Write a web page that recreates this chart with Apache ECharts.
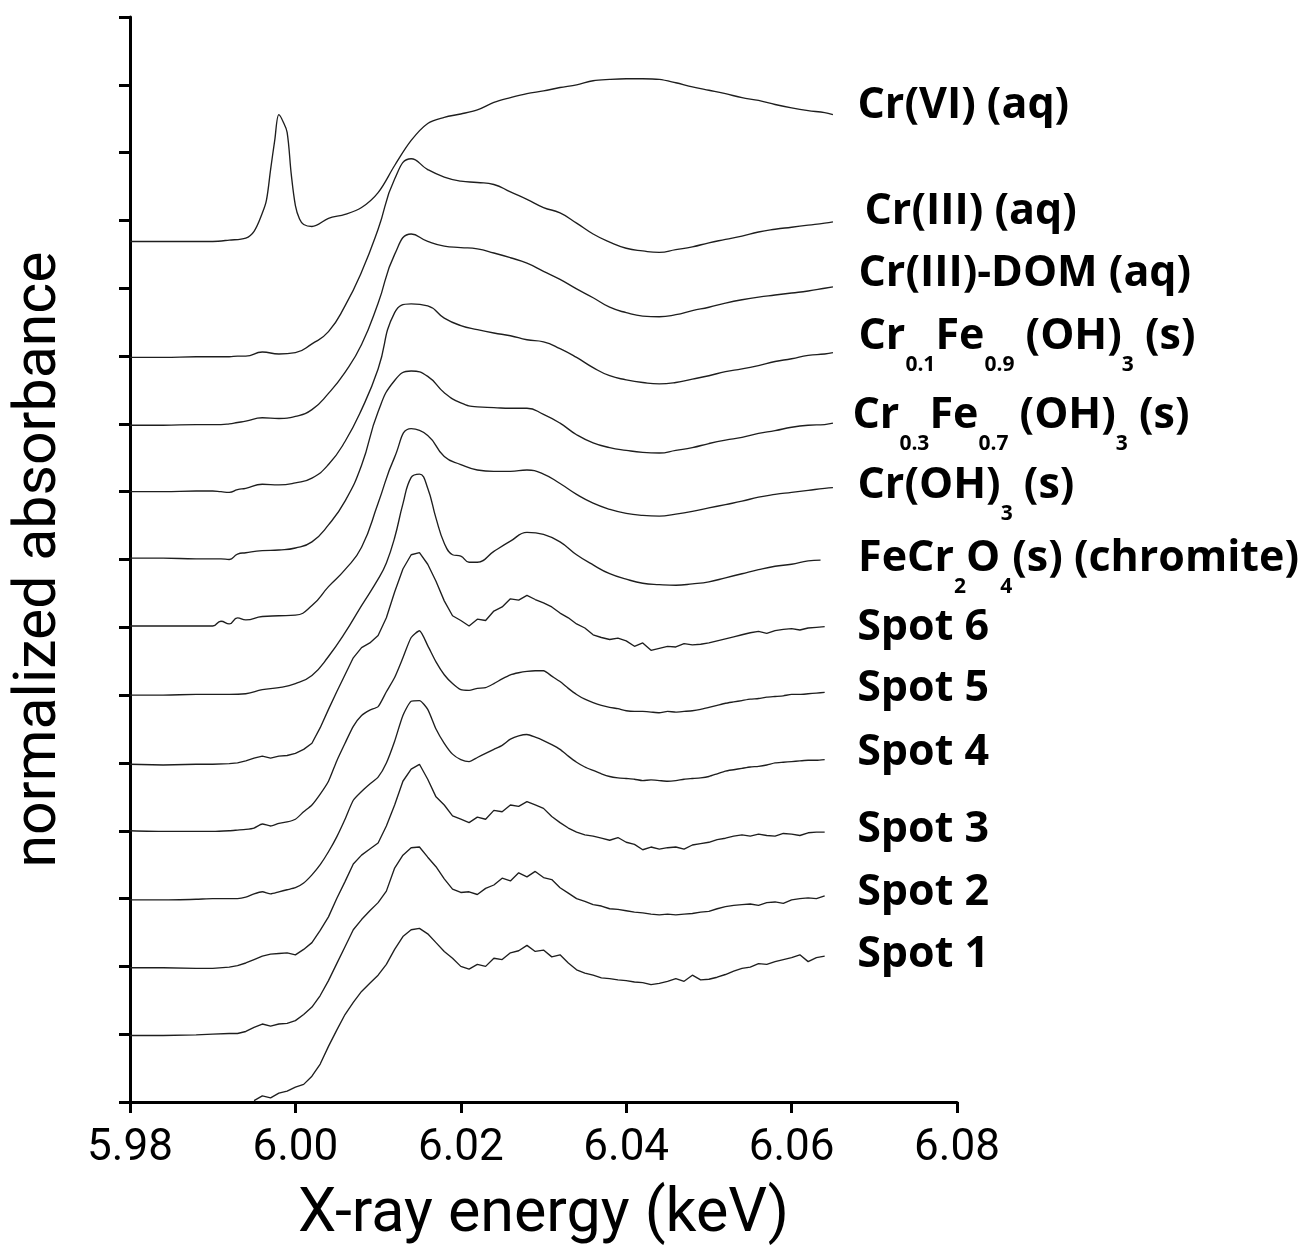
<!DOCTYPE html>
<html><head><meta charset="utf-8">
<script src="https://cdn.jsdelivr.net/npm/echarts@6/dist/echarts.min.js"></script>
<style>html,body{margin:0;padding:0;background:#fff}#c{width:1311px;height:1251px}</style>
</head><body><div id="c"></div>
<script>
// ---------- energies (keV) ----------
const E_STD = [5.980,5.984,5.988,5.990,5.991,5.992,5.993,5.994,5.996,5.998,6.000,6.002,6.004,6.006,6.008,6.010,6.012,6.014,6.016,6.018,6.020,6.022,6.024,6.026,6.028,6.030,6.032,6.034,6.036,6.038,6.040,6.042,6.044,6.046,6.048,6.050,6.052,6.054,6.056,6.058,6.060,6.062,6.064,6.065];
const E_CR6 = [5.980,5.984,5.988,5.990,5.992,5.994,5.995,5.996,5.9965,5.997,5.9975,5.998,5.9985,5.999,5.9995,6.000,6.0005,6.001,6.002,6.004,6.006,6.008,6.010,6.012,6.014,6.016,6.018,6.020,6.022,6.024,6.026,6.028,6.030,6.032,6.034,6.036,6.038,6.040,6.042,6.044,6.046,6.048,6.050,6.052,6.054,6.056,6.058,6.060,6.062,6.064,6.065];
const E_FCO = [5.980,5.984,5.988,5.990,5.992,5.994,5.996,5.998,6.000,6.002,6.004,6.006,6.008,6.010,6.011,6.012,6.013,6.014,6.015,6.016,6.017,6.018,6.019,6.020,6.021,6.022,6.024,6.026,6.028,6.030,6.032,6.034,6.036,6.038,6.040,6.042,6.044,6.046,6.048,6.050,6.052,6.054,6.056,6.058,6.060,6.062,6.0635];
const E_SPOT = [5.980,5.984,5.988,5.990,5.992,
 5.993,5.994,5.995,5.996,5.997,5.998,5.999,6.000,6.001,6.002,
 6.003,6.004,6.005,6.006,6.007,6.008,6.009,6.010,6.011,6.012,
 6.013,6.014,6.015,6.016,6.017,6.018,6.019,6.020,6.021,6.022,
 6.023,6.024,6.025,6.026,6.027,6.028,6.029,6.030,6.031,6.032,
 6.033,6.034,6.035,6.036,6.037,6.038,6.039,6.040,6.041,6.042,
 6.043,6.044,6.045,6.046,6.047,6.048,6.049,6.050,6.051,6.052,
 6.053,6.054,6.055,6.056,6.057,6.058,6.059,6.060,6.061,6.062,
 6.063,6.064];

// ---------- offset normalized absorbance ----------
const crVI = [12.69,12.69,12.69,12.69,12.71,12.74,12.84,13.11,13.30,13.75,14.18,14.56,14.46,14.30,13.68,13.22,13.02,12.94,12.91,13.03,13.09,13.19,13.41,13.81,14.18,14.43,14.52,14.57,14.63,14.74,14.81,14.87,14.91,14.96,15.00,15.06,15.08,15.09,15.09,15.08,15.03,14.97,14.92,14.87,14.81,14.77,14.71,14.66,14.62,14.59,14.56];
const crIIIaq = [10.98,10.98,10.99,10.99,10.99,10.99,11.00,11.00,11.06,11.03,11.05,11.18,11.36,11.74,12.24,12.87,13.61,13.91,13.75,13.64,13.58,13.56,13.53,13.42,13.31,13.19,13.11,12.96,12.80,12.68,12.59,12.55,12.53,12.57,12.61,12.67,12.72,12.77,12.83,12.87,12.90,12.93,12.96,12.98];
const crIIIdom = [9.98,9.98,9.99,9.99,9.99,10.00,10.02,10.04,10.09,10.08,10.11,10.21,10.45,10.76,11.17,11.78,12.50,12.80,12.69,12.62,12.60,12.58,12.52,12.45,12.37,12.25,12.13,11.99,11.86,11.72,11.64,11.59,11.58,11.61,11.67,11.72,11.78,11.83,11.87,11.90,11.93,11.96,12.00,12.02];
const cr01fe09 = [9.00,9.00,9.01,9.01,9.00,8.99,9.03,9.05,9.11,9.10,9.13,9.20,9.40,9.74,10.21,10.81,11.64,11.77,11.74,11.56,11.45,11.39,11.34,11.30,11.24,11.21,11.11,10.98,10.83,10.71,10.65,10.61,10.59,10.61,10.66,10.71,10.77,10.81,10.86,10.92,10.96,11.01,11.03,11.05];
const cr03fe07 = [8.02,8.02,8.01,8.01,8.01,8.00,8.08,8.10,8.13,8.14,8.17,8.26,8.51,8.86,9.39,10.18,10.64,10.78,10.70,10.46,10.31,10.25,10.24,10.23,10.23,10.14,10.01,9.84,9.72,9.65,9.61,9.58,9.57,9.61,9.65,9.71,9.76,9.80,9.86,9.90,9.95,9.98,9.99,10.01];
const crOH3 = [7.02,7.02,7.02,7.02,7.09,7.05,7.14,7.11,7.16,7.17,7.18,7.32,7.60,7.85,8.18,8.83,9.51,9.93,9.83,9.52,9.40,9.32,9.30,9.30,9.32,9.26,9.12,8.96,8.83,8.74,8.68,8.65,8.64,8.67,8.71,8.76,8.81,8.86,8.92,8.96,8.99,9.02,9.05,9.06];
const feCr2O4 = [6.00,6.00,6.01,6.01,6.01,6.02,6.08,6.11,6.17,6.29,6.57,6.92,7.32,7.71,7.95,8.32,8.82,9.21,9.26,9.05,8.61,8.24,8.07,8.05,7.96,7.96,8.12,8.27,8.40,8.37,8.26,8.07,7.92,7.79,7.71,7.65,7.63,7.62,7.64,7.67,7.73,7.79,7.85,7.90,7.93,7.98,7.99];
const spot6 = [4.98,4.97,4.98,4.98,4.99,
 5.00,5.03,5.07,5.10,5.07,5.10,5.11,5.14,5.20,5.29,
 5.52,5.79,6.05,6.30,6.55,6.70,6.77,6.88,7.14,7.52,
 7.86,8.07,8.10,7.93,7.68,7.39,7.17,7.10,7.02,7.12,
 7.10,7.24,7.30,7.42,7.40,7.47,7.41,7.36,7.30,7.21,
 7.14,7.05,6.99,6.89,6.85,6.82,6.84,6.80,6.72,6.77,
 6.66,6.69,6.72,6.71,6.76,6.74,6.75,6.77,6.80,6.83,
 6.86,6.89,6.92,6.94,6.91,6.95,6.97,6.98,6.96,6.99,
 7.00,7.01];
const spot5 = [4.00,3.99,3.99,3.99,4.00,
 4.01,4.02,4.04,4.10,4.07,4.11,4.13,4.17,4.28,4.38,
 4.54,4.73,5.03,5.29,5.54,5.70,5.78,5.83,6.05,6.26,
 6.55,6.85,6.95,6.73,6.49,6.30,6.17,6.08,6.07,6.10,
 6.11,6.17,6.24,6.30,6.33,6.35,6.36,6.36,6.28,6.20,
 6.10,6.01,5.94,5.89,5.85,5.82,5.80,5.77,5.76,5.76,
 5.75,5.74,5.76,5.75,5.76,5.77,5.79,5.82,5.85,5.88,
 5.90,5.92,5.94,5.95,5.97,5.98,5.99,6.01,6.01,6.02,
 6.03,6.04];
const spot4 = [2.98,2.98,2.99,3.00,3.00,
 3.00,3.02,3.07,3.10,3.07,3.10,3.13,3.16,3.23,3.35,
 3.50,3.69,3.91,4.17,4.45,4.58,4.69,4.79,5.00,5.32,
 5.70,5.91,5.92,5.79,5.50,5.29,5.13,5.05,5.02,5.08,
 5.14,5.20,5.26,5.35,5.40,5.42,5.38,5.33,5.27,5.20,
 5.10,5.01,4.94,4.89,4.84,4.80,4.78,4.77,4.76,4.74,
 4.75,4.74,4.73,4.74,4.76,4.77,4.78,4.80,4.84,4.88,
 4.90,4.92,4.94,4.95,4.97,5.00,5.01,5.02,5.03,5.04,
 5.04,5.05];
const spot3 = [1.98,1.98,1.97,1.97,1.99,
 2.01,2.05,2.10,2.15,2.18,2.19,2.20,2.17,2.25,2.35,
 2.53,2.73,3.00,3.25,3.51,3.64,3.73,3.82,4.07,4.38,
 4.73,4.91,4.98,4.76,4.50,4.38,4.22,4.17,4.12,4.20,
 4.17,4.30,4.28,4.38,4.36,4.43,4.38,4.33,4.21,4.12,
 4.04,3.98,3.94,3.92,3.89,3.86,3.90,3.83,3.80,3.72,
 3.76,3.73,3.75,3.76,3.73,3.79,3.81,3.83,3.87,3.89,
 3.92,3.94,3.92,3.95,3.93,3.92,3.96,3.95,3.93,3.97,
 3.98,3.98];
const spot2 = [0.98,0.98,0.99,1.00,1.01,
 1.01,1.04,1.10,1.15,1.12,1.15,1.16,1.20,1.29,1.40,
 1.57,1.79,2.04,2.29,2.54,2.69,2.82,2.94,3.11,3.45,
 3.64,3.75,3.76,3.61,3.47,3.29,3.14,3.09,3.10,3.06,
 3.15,3.20,3.30,3.26,3.38,3.32,3.40,3.31,3.28,3.16,
 3.08,3.00,2.96,2.91,2.89,2.85,2.84,2.82,2.80,2.79,
 2.77,2.76,2.77,2.76,2.77,2.78,2.80,2.81,2.85,2.88,
 2.90,2.91,2.92,2.90,2.94,2.95,2.93,2.98,3.00,3.01,
 3.00,3.04];
const spot1 = [null,null,null,null,null,
 null,null,0.02,0.09,0.06,0.13,0.16,0.22,0.26,0.38,
 0.56,0.82,1.06,1.29,1.47,1.63,1.75,1.87,2.03,2.25,
 2.44,2.54,2.56,2.48,2.35,2.22,2.12,2.00,1.96,2.03,
 2.00,2.12,2.10,2.20,2.23,2.31,2.22,2.24,2.14,2.17,
 2.05,1.95,1.90,1.87,1.83,1.82,1.80,1.79,1.77,1.76,
 1.73,1.75,1.78,1.82,1.78,1.87,1.80,1.81,1.84,1.88,
 1.93,1.97,1.99,2.04,2.03,2.07,2.10,2.13,2.17,2.07,
 2.13,2.15];

// ---------- labels ----------
const labels = [
 'Cr(VI) (aq)', 'Cr(III) (aq)', 'Cr(III)-DOM (aq)',
 'Cr{s|0.1}Fe{s|0.9} (OH){s|3} (s)', 'Cr{s|0.3}Fe{s|0.7} (OH){s|3} (s)',
 'Cr(OH){s|3} (s)', 'FeCr{s|2}O{s|4}(s) (chromite)',
 'Spot 6', 'Spot 5', 'Spot 4', 'Spot 3', 'Spot 2', 'Spot 1'
];
const xTicks = [5.98, 6.00, 6.02, 6.04, 6.06, 6.08];

const curves = [
 {E:E_CR6, Y:crVI, smooth:0.35, off:[24,-9]},
 {E:E_STD, Y:crIIIaq, smooth:0.5, off:[31,-10]},
 {E:E_STD, Y:crIIIdom, smooth:0.5, off:[25,-13]},
 {E:E_STD, Y:cr01fe09, smooth:0.5, off:[25,-16]},
 {E:E_STD, Y:cr03fe07, smooth:0.5, off:[19,-7]},
 {E:E_STD, Y:crOH3, smooth:0.5, off:[24,-2]},
 {E:E_FCO, Y:feCr2O4, smooth:0.45, off:[37,-1]},
 {E:E_SPOT, Y:spot6, smooth:false, off:[32,1]},
 {E:E_SPOT, Y:spot5, smooth:0.2, off:[32,-4]},
 {E:E_SPOT, Y:spot4, smooth:0.2, off:[32,-7]},
 {E:E_SPOT, Y:spot3, smooth:false, off:[32,-2]},
 {E:E_SPOT, Y:spot2, smooth:false, off:[32,-3]},
 {E:E_SPOT, Y:spot1, smooth:false, off:[32,-1]}
];

function pairs(E, Y) {
  const out = [];
  for (let i = 0; i < E.length; i++) if (Y[i] != null) out.push([E[i], Y[i]]);
  return out;
}

const series = curves.map((c, i) => {
  const d = pairs(c.E, c.Y);
  const last = d[d.length - 1];
  return {
    type: 'line', data: d, showSymbol: false, smooth: c.smooth, silent: true,
    lineStyle: {color: '#1e1e1e', width: 1.35},
    markPoint: {
      symbol: 'circle', symbolSize: 1, silent: true, animation: false,
      itemStyle: {color: 'rgba(0,0,0,0)'},
      data: [{
        coord: last,
        label: {
          show: true, position: 'right', distance: 0, offset: c.off,
          formatter: () => labels[i],
          color: '#000', fontFamily: 'Open Sans', fontWeight: 'bold', fontSize: 43, lineHeight: 44,
          rich: {s: {fontFamily: 'Open Sans', fontWeight: 'bold', fontSize: 21, lineHeight: 21, color: '#000', padding: [56, 0, 0, 0]}}
        }
      }]
    }
  };
});

const chart = echarts.init(document.getElementById('c'));
chart.setOption({
  animation: false,
  backgroundColor: '#fff',
  grid: {left: 130, right: 354, top: 17, bottom: 145, containLabel: false},
  xAxis: {
    type: 'value', min: xTicks[0], max: xTicks[xTicks.length - 1], interval: 0.02,
    name: 'X-ray energy (keV)', nameLocation: 'middle', nameGap: 83,
    nameTextStyle: {fontFamily: 'Roboto', fontSize: 61, color: '#000'},
    axisLine: {onZero: false, lineStyle: {color: '#000', width: 3}},
    axisTick: {show: true, inside: false, length: 11, lineStyle: {color: '#000', width: 3}},
    axisLabel: {margin: 25, fontFamily: 'Roboto', fontSize: 44, color: '#000', formatter: v => v.toFixed(2)},
    splitLine: {show: false}
  },
  yAxis: {
    type: 'value', min: 0, max: 16, interval: 1,
    name: 'normalized absorbance', nameLocation: 'middle', nameGap: 60, nameRotate: 90,
    nameTextStyle: {fontFamily: 'Roboto', fontSize: 59, color: '#000'},
    axisLine: {show: true, onZero: false, lineStyle: {color: '#000', width: 3}},
    axisTick: {show: true, inside: false, length: 11, lineStyle: {color: '#000', width: 3}},
    axisLabel: {show: false},
    splitLine: {show: false}
  },
  series: series
});
</script>
</body></html>
